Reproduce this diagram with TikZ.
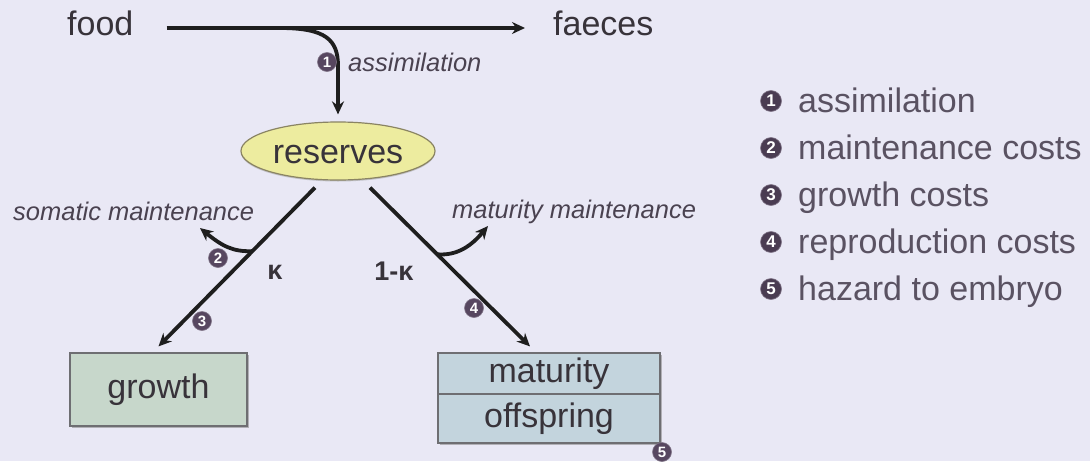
\documentclass[tikz,border=0pt]{standalone}
\usepackage{fontspec}
\setmainfont{Liberation Sans}
\usetikzlibrary{arrows.meta,shapes.geometric,calc,shadows}
\definecolor{bg}{HTML}{E9E8F5}
\definecolor{ink}{HTML}{1E1E1E}
\definecolor{txt}{HTML}{38333A}
\definecolor{lbl}{HTML}{4A4250}
\definecolor{leg}{HTML}{5A5262}
\definecolor{badge}{HTML}{574760}
\definecolor{resfill}{HTML}{EDEC9F}
\definecolor{resdraw}{HTML}{8A8463}
\definecolor{grfill}{HTML}{C7D7CB}
\definecolor{matfill}{HTML}{C3D4DD}
\definecolor{boxdraw}{HTML}{6E6E72}
\begin{document}
\begin{tikzpicture}[x=1pt,y=-1pt,
  bigtext/.style={font=\fontsize{34}{40}\selectfont, text=txt, inner sep=0pt},
  itlabel/.style={font=\fontsize{25.5}{30}\selectfont\itshape, text=lbl, inner sep=0pt},
  kappa/.style={font=\fontsize{27}{30}\selectfont\bfseries, text=txt, inner sep=0pt},
  legtext/.style={font=\fontsize{34}{40}\selectfont, text=leg, inner sep=0pt, anchor=base west},
  badgenode/.style={circle, fill=badge, draw=badge!75!white, line width=0.6pt,
    minimum size=19pt, inner sep=0pt, text=white, font=\fontsize{15}{15}\selectfont\bfseries},
  legbadge/.style={badgenode, fill=badge!85!black, minimum size=21pt, font=\fontsize{17}{17}\selectfont\bfseries},
  flow/.style={draw=ink, line width=3.8pt, -{Stealth[length=13pt,width=12pt]}},
  compbox/.style={draw=boxdraw, line width=1.2pt, inner sep=0pt,
    drop shadow={shadow xshift=1.5pt, shadow yshift=-1.5pt, fill=black!45, opacity=0.6},
    font=\fontsize{34}{40}\selectfont, text=txt, text height=25pt, text depth=7pt}
]
\useasboundingbox (0,0) rectangle (1090,461);
\fill[bg] (0,0) rectangle (1090,461);

% top
\node[bigtext, anchor=base west] (food) at (67,35) {food};
\node[bigtext, anchor=base west] (faeces) at (553,35) {faeces};
\draw[flow] ($(food.base east)+(33,-7)$) -- ($(faeces.base west)+(-28,-7)$);

% reserves
\node[ellipse, fill=resfill, draw=resdraw, line width=1.2pt,
  drop shadow={shadow xshift=0pt, shadow yshift=-1.5pt, fill=black!40, opacity=0.5},
  minimum width=194pt, minimum height=58pt, inner sep=0pt,
  font=\fontsize{34}{40}\selectfont, text=txt, text height=24pt, text depth=0pt]
  (reserves) at (338,151) {reserves};

% assimilation
\coordinate (asplit) at (280,28);
\draw[flow] (asplit) .. controls (326,28) and (338,40) .. (338,66) -- ([yshift=7pt]reserves.north);
\node[badgenode] (b1) at (327,62) {1};
\node[itlabel, anchor=west] (lassim) at (348,62) {assimilation};

% boxes
\node[compbox, fill=grfill, minimum width=177pt, minimum height=73pt] (growth) at (158.5,389.5) {growth};
\node[compbox, fill=matfill, minimum width=222pt, minimum height=41pt] (mat) at (549,373.5) {maturity};
\node[compbox, fill=matfill, minimum width=222pt, minimum height=49pt] (off) at (549,418.5) {offspring};

% branches
\coordinate (l0) at ([xshift=-23pt,yshift=-7pt]reserves.south);
\coordinate (l1) at ([yshift=6pt]growth.north);
\coordinate (r0) at ([xshift=32pt,yshift=-7pt]reserves.south);
\coordinate (r1) at ([xshift=-19pt,yshift=6pt]mat.north);
\draw[flow] (l0) -- (l1);
\draw[flow] (r0) -- (r1);

\coordinate (lh) at ($(l0)!0.4!(l1)$);
\coordinate (rh) at ($(r0)!0.42!(r1)$);
\coordinate (somtip) at (200,228);
\coordinate (mattip) at (488,226);
\draw[flow] (lh) .. controls (233,252) and (222,246) .. (somtip);
\draw[flow] (rh) .. controls (458,256) and (472,245) .. (mattip);

\node[itlabel, anchor=west] (lsom) at (13,211) {somatic maintenance};
\node[itlabel, anchor=base west] (lmat) at (452,218) {maturity maintenance};
\node[kappa] (k1) at (275,272) {κ};
\node[kappa] (k2) at (394,271) {1-κ};

\node[badgenode] (b2) at (218,258) {2};
\node[badgenode] (b3) at (202,321) {3};
\node[badgenode] (b4) at (474,308) {4};
\node[badgenode] (b5) at (662,452) {5};

% legend
\foreach \i/\t/\y in {1/assimilation/112, 2/maintenance costs/159, 3/growth costs/206,
                      4/reproduction costs/253, 5/hazard to embryo/300}{
  \node[legbadge] (lb\i) at (771,\y-11) {\i};
  \node[legtext] (lt\i) at (798,\y) {\t};
}
\end{tikzpicture}
\end{document}
